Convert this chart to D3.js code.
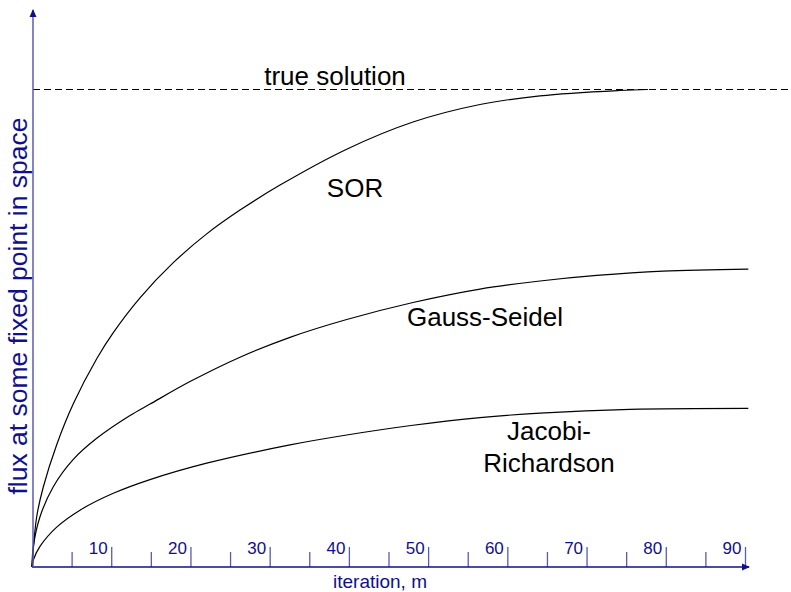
<!DOCTYPE html>
<html>
<head>
<meta charset="utf-8">
<script src="https://cdn.jsdelivr.net/npm/d3@7"></script>
<style>
  body { margin: 0; background: #fff; }
  svg { display: block; font-family: Arial, "Liberation Sans", sans-serif; }
  .curve { fill: none; stroke: #000; stroke-width: 1.2px; }
  .lbl { font-size: 26px; fill: #000; }
</style>
</head>
<body>
<div id="chart"></div>
<script>
// iteration numbers and flux (1 = true solution)
var sorM = [0, 0.593, 1.426, 3.118, 5.213, 8.167, 10.262, 13.633, 17.836, 22.052, 26.256, 31.305, 39.724, 48.093, 56.55, 64.124, 74.222, 77.76];
var sorV = [0, 0.1053, 0.1675, 0.2561, 0.3418, 0.4362, 0.4909, 0.5638, 0.6373, 0.6976, 0.7474, 0.7998, 0.875, 0.9319, 0.9686, 0.9866, 0.9979, 1.0];
var gsM  = [0, 0.164, 1.01, 2.689, 5.213, 8.167, 12.37, 14.895, 19.944, 26.256, 32.567, 39.724, 48.093, 56.55, 64.124, 71.281, 79.65, 90.417];
var gsV  = [0, 0.0425, 0.1053, 0.1682, 0.2253, 0.2695, 0.3173, 0.3412, 0.3883, 0.4394, 0.481, 0.5183, 0.5539, 0.582, 0.599, 0.6107, 0.6197, 0.6239];
var jrM  = [0, 0.164, 1.01, 3.118, 6.059, 10.262, 14.895, 22.052, 32.567, 39.724, 48.093, 56.55, 64.124, 75.484, 90.417];
var jrV  = [0, 0.0147, 0.0431, 0.0834, 0.119, 0.1543, 0.183, 0.2174, 0.2557, 0.2764, 0.2968, 0.3129, 0.3223, 0.3303, 0.3324];

var majorTicks = [10, 20, 30, 40, 50, 60, 70, 80, 90];
var minorTicks = [5, 15, 25, 35, 45, 55, 65, 75, 85];
var trueValue = 1;

var width = 791, height = 592;
var navy = "#10108a", slate = "#5a5ab4";

var svg = d3.select("#chart").append("svg")
    .attr("width", width)
    .attr("height", height);

var x = d3.scaleLinear().domain([0, 90]).range([32, 745]);
var y = d3.scaleLinear().domain([0, 1]).range([567, 89.5]);

var defs = svg.append("defs");
defs.append("marker")
    .attr("id", "arrow")
    .attr("viewBox", "0 0 8 8")
    .attr("refX", 7).attr("refY", 4)
    .attr("markerWidth", 8).attr("markerHeight", 8)
    .attr("markerUnits", "userSpaceOnUse")
    .attr("orient", "auto")
  .append("path")
    .attr("d", "M0,0.5L8,4L0,7.5Z")
    .attr("fill", navy);

// true solution
svg.append("line")
    .attr("x1", x(0) + 1).attr("x2", width)
    .attr("y1", y(trueValue)).attr("y2", y(trueValue))
    .attr("stroke", "#000")
    .attr("stroke-dasharray", "7,4");

// curves
var line = d3.line()
    .x(function(d) { return x(d[0]); })
    .y(function(d) { return y(d[1]); })
    .curve(d3.curveCatmullRom.alpha(0.5));

function pairs(ms, vs) { return ms.map(function(m, i) { return [m, vs[i]]; }); }

svg.selectAll("path.curve")
    .data([pairs(sorM, sorV), pairs(gsM, gsV), pairs(jrM, jrV)])
  .enter().append("path")
    .attr("class", "curve")
    .attr("d", line);

// ticks: go up from the axis, label sits left of the tick
var minorAxis = d3.axisTop(x).tickValues(minorTicks).tickSize(15).tickFormat("");
var majorAxis = d3.axisTop(x).tickValues(majorTicks).tickSize(20);

var gMinor = svg.append("g")
    .attr("transform", "translate(0," + y(0) + ")")
    .call(minorAxis);
var gMajor = svg.append("g")
    .attr("transform", "translate(0," + y(0) + ")")
    .call(majorAxis);

[gMinor, gMajor].forEach(function(g) {
  g.select(".domain").remove();
  g.selectAll(".tick line").attr("stroke", slate).attr("stroke-width", 1.3);
});
gMajor.selectAll(".tick text")
    .attr("x", -4).attr("y", -13).attr("dy", 0)
    .attr("text-anchor", "end")
    .attr("fill", navy)
    .style("font-size", "17px")
    .style("font-family", "Arial, 'Liberation Sans', sans-serif");

// axes lines with arrows
svg.append("line")
    .attr("x1", x(0)).attr("x2", 749)
    .attr("y1", y(0)).attr("y2", y(0))
    .attr("stroke", navy).attr("stroke-width", 1.5)
    .attr("marker-end", "url(#arrow)");

svg.append("line")
    .attr("x1", x(0) + 1).attr("x2", x(0) + 1)
    .attr("y1", y(0)).attr("y2", 10)
    .attr("stroke", slate).attr("stroke-width", 1.5)
    .attr("marker-end", "url(#arrow)");

// axis titles
svg.append("text")
    .attr("x", 380).attr("y", 588)
    .attr("text-anchor", "middle")
    .attr("fill", navy)
    .style("font-size", "19px")
    .text("iteration, m");

svg.append("text")
    .attr("transform", "translate(27,306) rotate(-90)")
    .attr("text-anchor", "middle")
    .attr("fill", navy)
    .style("font-size", "26.5px")
    .text("flux at some fixed point in space");

// curve labels
svg.append("text").attr("class", "lbl")
    .attr("x", 335).attr("y", 85).attr("text-anchor", "middle")
    .text("true solution");
svg.append("text").attr("class", "lbl")
    .attr("x", 355).attr("y", 197).attr("text-anchor", "middle")
    .text("SOR");
svg.append("text").attr("class", "lbl")
    .attr("x", 485).attr("y", 326).attr("text-anchor", "middle")
    .text("Gauss-Seidel");
svg.append("text").attr("class", "lbl")
    .attr("x", 549).attr("y", 440).attr("text-anchor", "middle")
    .text("Jacobi-");
svg.append("text").attr("class", "lbl")
    .attr("x", 549).attr("y", 472).attr("text-anchor", "middle")
    .text("Richardson");
</script>
</body>
</html>
